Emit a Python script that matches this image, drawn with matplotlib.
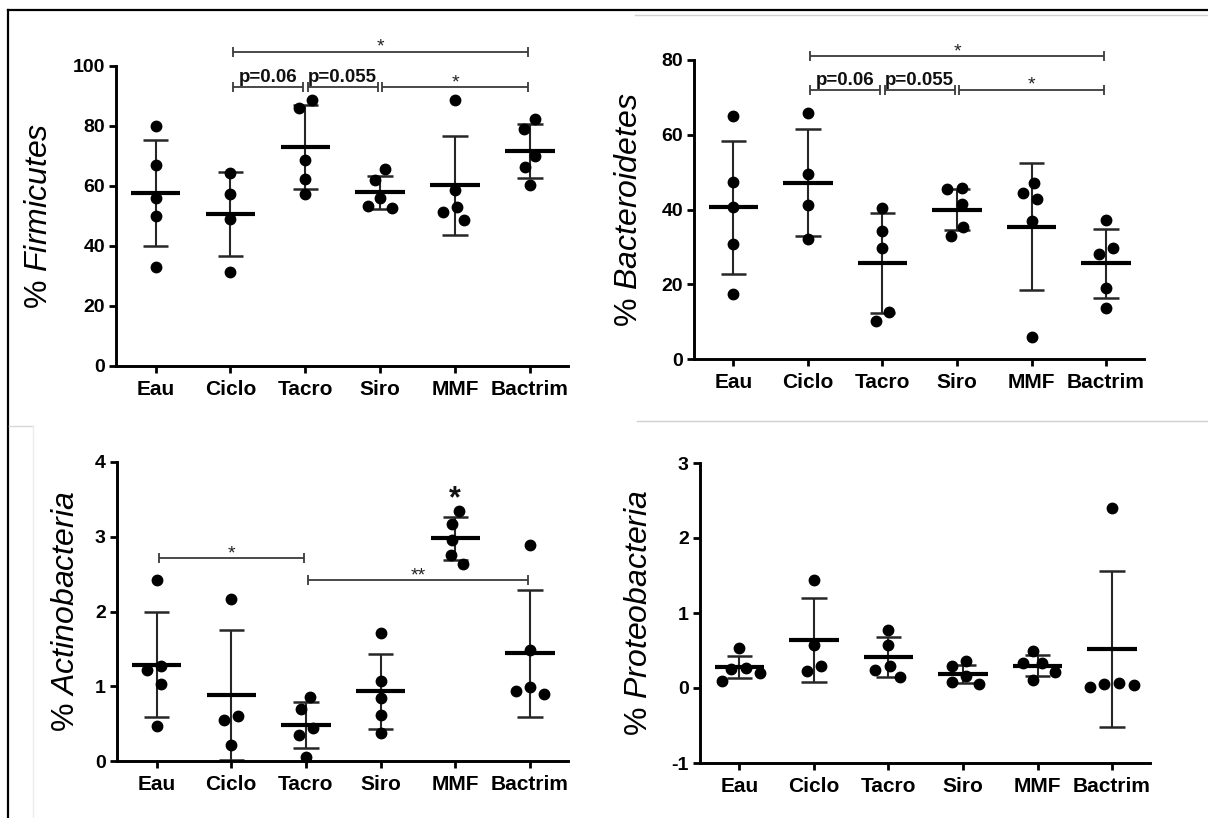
import numpy as np
import matplotlib
matplotlib.use("Agg")
import matplotlib.pyplot as plt
from matplotlib.lines import Line2D

plt.rcParams['font.family'] = ['Liberation Sans', 'DejaVu Sans']
plt.rcParams['mathtext.fontset'] = 'custom'
plt.rcParams['mathtext.it'] = 'Liberation Sans:italic'
plt.rcParams['mathtext.rm'] = 'Liberation Sans'

# ---------------- data ----------------
categories = ["Eau", "Ciclo", "Tacro", "Siro", "MMF", "Bactrim"]

firmicutes_points = [
    [80.1, 67.0, 55.9, 50.0, 32.9],
    [64.5, 57.2, 49.1, 31.4],
    [88.8, 86.0, 68.6, 62.5, 57.2],
    [65.6, 61.9, 56.1, 53.2, 52.8],
    [88.7, 58.8, 53.0, 51.3, 48.6],
    [82.5, 79.1, 70.1, 66.3, 60.2],
]
firmicutes_mean = [57.6, 50.7, 72.9, 57.9, 60.2, 71.7]
firmicutes_sd = [17.75, 14.1, 14.0, 5.6, 16.4, 9.05]

bacteroidetes_points = [
    [65.0, 47.4, 40.6, 30.9, 17.4],
    [65.7, 49.6, 41.2, 32.0],
    [40.3, 34.3, 29.6, 12.5, 10.2],
    [45.7, 45.5, 41.6, 35.2, 33.0],
    [47.1, 44.3, 42.8, 37.0, 5.8],
    [37.3, 29.6, 28.0, 18.9, 13.6],
]
bacteroidetes_mean = [40.6, 47.2, 25.6, 40.0, 35.4, 25.6]
bacteroidetes_sd = [17.85, 14.25, 13.4, 5.55, 16.95, 9.3]

actino_points = [
    [2.42, 1.27, 1.22, 1.03, 0.47],
    [2.17, 0.60, 0.545, 0.21],
    [0.85, 0.69, 0.44, 0.35, 0.06],
    [1.71, 1.07, 0.84, 0.61, 0.38],
    [3.35, 3.17, 2.96, 2.76, 2.64],
    [2.89, 1.48, 0.99, 0.94, 0.90],
]
actino_mean = [1.29, 0.88, 0.48, 0.93, 2.98, 1.44]
actino_sd = [0.70, 0.87, 0.31, 0.505, 0.285, 0.845]

proteo_points = [
    [0.53, 0.27, 0.26, 0.20, 0.10],
    [1.44, 0.58, 0.29, 0.23],
    [0.78, 0.58, 0.29, 0.24, 0.15],
    [0.36, 0.29, 0.16, 0.08, 0.05],
    [0.49, 0.34, 0.33, 0.22, 0.11],
    [2.40, 0.07, 0.06, 0.04, 0.02],
]
proteo_mean = [0.28, 0.64, 0.41, 0.19, 0.30, 0.52]
proteo_sd = [0.15, 0.555, 0.265, 0.12, 0.14, 1.045]

# significance brackets: (from, to, height, label)
firmicutes_brackets = [(1, 5, 104.7, "*"), (1, 2, 93.0, "p=0.06"),
                       (2, 3, 93.0, "p=0.055"), (3, 5, 93.0, "*")]
bacteroidetes_brackets = [(1, 5, 81.0, "*"), (1, 2, 72.0, "p=0.06"),
                          (2, 3, 72.0, "p=0.055"), (3, 5, 72.0, "*")]
actino_brackets = [(0, 2, 2.71, "*"), (2, 5, 2.42, "**")]
actino_single_star = (4, 3.6, "*")

# ---------------- figure ----------------
W, H = 1208, 818
fig = plt.figure(figsize=(W / 100, H / 100), dpi=100)
fig.patch.set_facecolor("white")


def px_axes(left, right, top, bottom):
    return fig.add_axes([left / W, 1 - bottom / H, (right - left) / W, (bottom - top) / H])


def beeswarm(ax, xc, vals, D=15.0):
    pts = ax.transData.transform(np.column_stack([np.full(len(vals), xc), vals]))
    ys = pts[:, 1]
    order = np.argsort(-ys)
    xs = np.zeros(len(vals))
    placed = []
    for i in order:
        y = ys[i]
        cands = [0.0]
        for (px, py) in placed:
            dy = abs(y - py)
            if dy < D:
                dx = np.sqrt(D * D - dy * dy)
                cands += [px - dx, px + dx]
        valid = [c for c in cands
                 if all((c - px) ** 2 + (y - py) ** 2 >= D * D - 1e-6 for px, py in placed)]
        best = min(valid, key=lambda c: (abs(c), c))
        xs[i] = best
        placed.append((best, y))
    srt = list(order)
    clusters = [[srt[0]]]
    for a, b in zip(srt[:-1], srt[1:]):
        if abs(ys[a] - ys[b]) < D:
            clusters[-1].append(b)
        else:
            clusters.append([b])
    for cl in clusters:
        xs[cl] -= np.mean(xs[cl])
    disp = np.column_stack([pts[:, 0] + xs, ys])
    data = ax.transData.inverted().transform(disp)
    return data[:, 0]


def bracket(ax, x1, x2, y, label, is_text):
    g = 0.03
    ax.plot([x1 + g, x2 - g], [y, y], color="#3a3a3a", lw=1.3, clip_on=False,
            marker="|", markersize=7, markeredgewidth=1.3, solid_capstyle="butt")
    if is_text:
        ax.annotate(label, xy=((x1 + x2) / 2, y), xytext=(0, 3.5), textcoords="offset points",
                    ha="center", va="baseline", fontsize=13.5, fontweight="bold",
                    annotation_clip=False, color="#111111")
    else:
        ax.annotate(label, xy=((x1 + x2) / 2, y), xytext=(0, 0), textcoords="offset points",
                    ha="center", va="baseline", fontsize=14,
                    annotation_clip=False, color="#222222")


def panel(ax, points, means, sds, ylim, yticks, ylabel, label_x):
    ax.set_xlim(-0.53, 5.51)
    ax.set_ylim(*ylim)
    for s in ["top", "right"]:
        ax.spines[s].set_visible(False)
    for s in ["left", "bottom"]:
        ax.spines[s].set_linewidth(2.1)
        ax.spines[s].set_color("black")
    ax.set_xticks(range(len(categories)))
    ax.set_xticklabels(categories, fontsize=15, fontweight="bold")
    ax.set_yticks(yticks)
    ax.set_yticklabels([str(t) for t in yticks], fontsize=14, fontweight="bold")
    ax.tick_params(axis="both", direction="out", length=5, width=2.0, color="black")
    ax.tick_params(axis="x", pad=5)
    ax.tick_params(axis="y", pad=3)
    ax.set_ylabel(ylabel, fontsize=23)
    ax.yaxis.set_label_coords(label_x, 0.5)
    ax.patch.set_alpha(0)
    for i, (vals, m, sd) in enumerate(zip(points, means, sds)):
        ax.vlines(i, m - sd, m + sd, color="#262626", lw=1.5, zorder=2)
        ax.hlines([m - sd, m + sd], i - 0.17, i + 0.17, color="#262626", lw=1.8, zorder=2)
        ax.hlines(m, i - 0.33, i + 0.33, color="black", lw=3.0, zorder=3)
    return ax


ax1 = px_axes(116, 568, 66, 366)
ax2 = px_axes(694, 1144, 60, 359)
ax3 = px_axes(117, 568, 462, 761)
ax4 = px_axes(700, 1150, 463, 763)

panel(ax1, firmicutes_points, firmicutes_mean, firmicutes_sd, (0, 100), [0, 20, 40, 60, 80, 100],
      r"% $\mathit{Firmicutes}$", -0.137)
panel(ax2, bacteroidetes_points, bacteroidetes_mean, bacteroidetes_sd, (0, 80), [0, 20, 40, 60, 80],
      r"% $\mathit{Bacteroidetes}$", -0.111)
panel(ax3, actino_points, actino_mean, actino_sd, (0, 4), [0, 1, 2, 3, 4],
      r"% $\mathit{Actinobacteria}$", -0.08)
panel(ax4, proteo_points, proteo_mean, proteo_sd, (-1, 3), [-1, 0, 1, 2, 3],
      r"% $\mathit{Proteobacteria}$", -0.102)

fig.canvas.draw()
for ax, pts in [(ax1, firmicutes_points), (ax2, bacteroidetes_points),
                (ax3, actino_points), (ax4, proteo_points)]:
    for i, vals in enumerate(pts):
        xs = beeswarm(ax, i, np.array(vals, dtype=float))
        ax.plot(xs, vals, "o", color="black", markersize=7.5, zorder=4, clip_on=False)

for ax, brs in [(ax1, firmicutes_brackets), (ax2, bacteroidetes_brackets), (ax3, actino_brackets)]:
    for (a, b, y, lab) in brs:
        bracket(ax, a, b, y, lab, lab.startswith("p"))

sx, sy, slab = actino_single_star
ax3.annotate(slab, xy=(sx, sy), xytext=(0, -11), textcoords="offset points",
             ha="center", va="baseline", fontsize=22, fontweight="bold",
             annotation_clip=False, color="#111111")

# frame lines of the composite image
fig.add_artist(Line2D([8 / W, 8 / W], [0, 1 - 10 / H], transform=fig.transFigure,
                      color="black", lw=1.6))
fig.add_artist(Line2D([8 / W, 1], [1 - 10 / H, 1 - 10 / H], transform=fig.transFigure,
                      color="black", lw=1.6))
fig.add_artist(Line2D([635 / W, 1], [1 - 14.5 / H, 1 - 14.5 / H], transform=fig.transFigure,
                      color="#d0d0d0", lw=1.0))
fig.add_artist(Line2D([637 / W, 1], [1 - 421 / H, 1 - 421 / H], transform=fig.transFigure,
                      color="#d0d0d0", lw=1.0))
fig.add_artist(Line2D([9 / W, 33 / W], [1 - 426 / H, 1 - 426 / H], transform=fig.transFigure,
                      color="#d8d8d8", lw=1.0))
fig.add_artist(Line2D([33 / W, 33 / W], [0, 1 - 426 / H], transform=fig.transFigure,
                      color="#ececec", lw=1.0))

fig.savefig("out.png", dpi=100, facecolor="white")
